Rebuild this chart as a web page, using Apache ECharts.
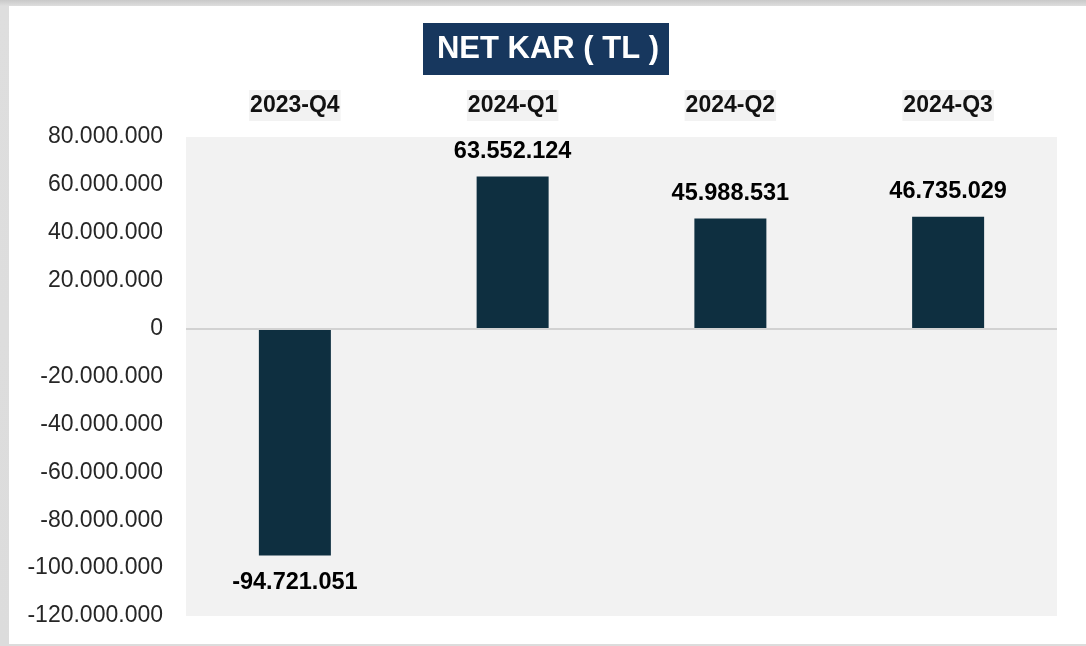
<!DOCTYPE html>
<html>
<head>
<meta charset="utf-8">
<style>
  html, body { margin: 0; padding: 0; width: 1086px; height: 646px; overflow: hidden; }
  body { background: linear-gradient(#c9c9c9, #dedede 6px, #dcdcdc); }
  #card { position: absolute; left: 9px; top: 6px; width: 1077px; height: 638px; background: #fff; }
  #chart { position: absolute; left: 0; top: 0; width: 1086px; height: 646px; }
</style>
<script src="https://cdn.jsdelivr.net/npm/echarts@6/dist/echarts.min.js"></script>
</head>
<body>
<div id="card"></div>
<div id="chart"></div>
<script>
var categories = ['2023-Q4', '2024-Q1', '2024-Q2', '2024-Q3'];
var netKar = [-94721051, 63552124, 45988531, 46735029];
var titleText = 'NET KAR ( TL )';

function fmt(v) {  // 1234567 -> 1.234.567
  var s = String(Math.abs(Math.round(v))).replace(/\B(?=(\d{3})+(?!\d))/g, '.');
  return (v < 0 ? '-' : '') + s;
}

var font = '"Liberation Sans", Arial, sans-serif';

var barData = netKar.map(function (v) {
  return {
    value: v,
    label: v < 0 ? { position: 'bottom', distance: 15 } : { position: 'top', distance: 13 }
  };
});

var chart = echarts.init(document.getElementById('chart'));
chart.setOption({
  animation: false,
  textStyle: { fontFamily: font },
  graphic: [
    {
      type: 'group', left: 423, top: 23,
      children: [
        { type: 'rect', shape: { x: 0, y: 0, width: 246, height: 52 }, style: { fill: '#17375e' } },
        { type: 'text', x: 125, y: 26, style: {
            text: titleText, fill: '#fff', font: 'bold 31px ' + font,
            textAlign: 'center', textVerticalAlign: 'middle' } }
      ]
    }
  ],
  grid: {
    left: 186, right: 29, top: 137, bottom: 30,
    show: true, backgroundColor: '#f2f2f2', borderWidth: 0
  },
  xAxis: {
    type: 'category',
    position: 'top',
    data: categories,
    axisLine: { show: false },
    axisTick: { show: false },
    axisLabel: {
      margin: 16,
      fontSize: 23, fontWeight: 'bold', color: '#111',
      backgroundColor: '#f2f2f2', padding: [4, 1, 4, 1], lineHeight: 23
    }
  },
  yAxis: {
    type: 'value',
    min: -120000000, max: 80000000, interval: 20000000,
    axisLine: { show: false },
    axisTick: { show: false },
    splitLine: { show: false },
    axisLabel: { margin: 23, fontSize: 23, color: '#262626', formatter: fmt }
  },
  series: [{
    type: 'bar',
    data: barData,
    barWidth: 72,
    itemStyle: { color: '#0e2f40' },
    label: {
      show: true, fontSize: 23.5, fontWeight: 'bold', color: '#000',
      formatter: function (p) { return fmt(p.value); }
    },
    markLine: {
      silent: true, symbol: 'none', label: { show: false },
      lineStyle: { color: '#d2d2d2', width: 2, type: 'solid' },
      data: [{ yAxis: 0 }]
    }
  }]
});
</script>
</body>
</html>
